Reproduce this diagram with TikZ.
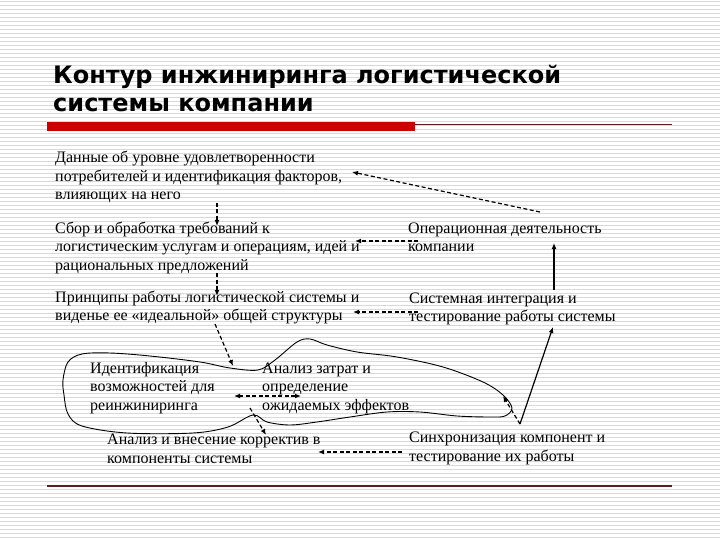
\documentclass[tikz,border=0pt]{standalone}
\usepackage{fontspec}
\setmainfont{Liberation Serif}
\newfontfamily\titlefont{DejaVu Sans}
\usetikzlibrary{arrows.meta,positioning,calc}

\definecolor{barred}{RGB}{204,0,0}
\definecolor{rulebrown}{RGB}{90,30,30}

\begin{document}
\begin{tikzpicture}[x=1pt,y=-1pt,>={Latex[length=6pt,width=5pt]}]
  \tikzset{
    txt/.style={anchor=base west, align=left, inner sep=0pt, font=\fontsize{16}{18.5}\selectfont},
    dasharr/.style={->, line width=1.2pt, dash pattern=on 4pt off 2.5pt},
    solidarr/.style={->, line width=1.2pt},
    stripe/.style={fill=black!15}
  }
  \useasboundingbox (0,0) rectangle (720,540);
  \fill[white] (0,0) rectangle (720,540);
  \foreach \k in {0,...,134}
    \fill[stripe] (0,4*\k+1) rectangle (720,4*\k+2.4);
  % title
  \node[anchor=base west, inner sep=0pt, align=left,
        font=\titlefont\bfseries\fontsize{24}{28}\selectfont] (title) at (53,112)
    {Контур инжиниринга логистической\\системы компании};
  \fill[barred] (47,122) rectangle (415,131);
  \draw[rulebrown, line width=1.3pt] (415,124.5) -- (672,124.5);
  \draw[rulebrown, line width=1.3pt] (47,486) -- (672,486);
  % texts
  \node[txt] (A) at (55,200) {Данные об уровне удовлетворенности\\потребителей и идентификация факторов,\\влияющих на него};
  \node[txt] (B) at (55,270) {Сбор и обработка требований к\\логистическим услугам и операциям, идей и\\рациональных предложений};
  \node[txt] (C) at (408,251.5) {Операционная деятельность\\компании};
  \node[txt] (D) at (55,320.5) {Принципы работы логистической системы и\\виденье ее «идеальной» общей структуры};
  \node[txt] (E) at (409,321.5) {Системная интеграция и\\тестирование работы системы};
  \node[txt] (F) at (90,410) {Идентификация\\возможностей для\\реинжиниринга};
  \node[txt] (G) at (262,410) {Анализ затрат и\\определение\\ожидаемых эффектов};
  \node[txt] (H) at (107,463) {Анализ и внесение корректив в\\компоненты системы};
  \node[txt] (I) at (409,461) {Синхронизация компонент и\\тестирование их работы};
  % contour
  \draw[line width=0.9pt] plot[smooth cycle, tension=0.55] coordinates {
    (63,380) (68,362) (82,354) (110,353) (150,356) (200,362) (230,368)
    (258,370) (275,360) (297,342) (310,339) (327,345) (357,352) (397,357)
    (443,367) (483,382) (503,395) (512,408) (505,416) (490,417) (457,416)
    (420,412) (387,412) (350,417) (317,422) (290,425) (267,422) (253,415)
    (228,427) (193,433) (127,433) (82,426) (68,414) (64,395)};
  % connectors
  \draw[dasharr] ($(C.base west)+(132,-39.5)$) -- ($(A.base west)+(297,-28)$);
  \draw[dasharr] ($(A.base west)+(162,3)$) -- ($(B.base west)+(162,-44)$);
  \draw[dasharr] ($(C.base west)+(10,-10.5)$) -- ($(B.base west)+(300,-29)$);
  \draw[solidarr] ($(E.base west)+(145,-31.5)$) -- ($(C.base west)+(146,-8.5)$);
  \draw[dasharr] ($(B.base west)+(162,3)$) -- ($(D.base west)+(162,-24.5)$);
  \draw[dasharr] ($(E.base west)+(9,-9.5)$) -- ($(D.base west)+(298,-8.5)$);
  \draw[dasharr] ($(D.base west)+(160,3.5)$) -- ($(F.base west)+(143,-44)$);
  \draw[dasharr, <->] ($(F.base west)+(144,-14)$) -- ($(G.base west)+(39,-14)$);
  \draw[dasharr] ($(G.base west)+(-12,-2)$) -- ($(H.base west)+(159,-28)$);
  \draw[dasharr] ($(I.base west)+(-7,-9)$) -- ($(H.base west)+(211,-11)$);
  \draw[solidarr] ($(I.base west)+(111,-37)$) -- ($(E.base west)+(144,5.5)$);
  \draw[dasharr] ($(I.base west)+(111,-37)$) -- ($(G.base west)+(241,-14)$);
\end{tikzpicture}
\end{document}
